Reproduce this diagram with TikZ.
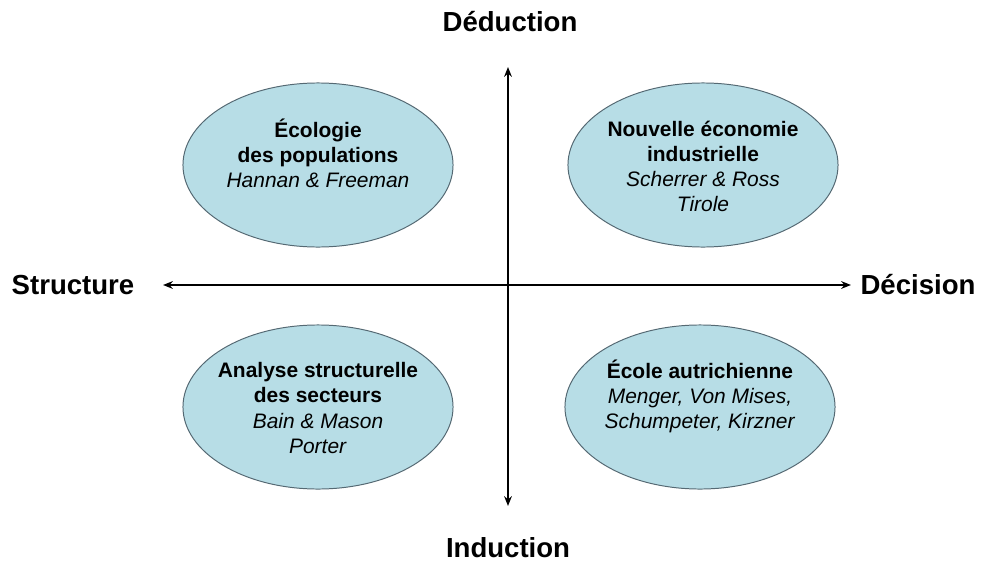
\documentclass[tikz,border=0pt]{standalone}
\usepackage{fontspec}
\setmainfont{Liberation Sans}
\usetikzlibrary{shapes.geometric,arrows.meta}
\definecolor{bulle}{RGB}{183,221,230}
\definecolor{bord}{RGB}{85,105,115}
\begin{document}
\begin{tikzpicture}[x=0.025cm,y=-0.025cm,
	bubble/.style={draw=bord,line width=0.7pt,fill=bulle,ellipse,inner sep=0,minimum width=6.75cm,minimum height=4.1cm},
	txt/.style={align=center,inner sep=0,font=\fontsize{14.9}{17.8}\selectfont},
	axlabel/.style={inner sep=0,font=\fontsize{19.6}{22}\selectfont\bfseries},
	axis/.style={line width=1pt,{Stealth[length=7pt,width=5.5pt]}-{Stealth[length=7pt,width=5.5pt]}}]
	\useasboundingbox (0,0) rectangle (982,566);
	\coordinate (L) at (163,285);
	\coordinate (R) at (851,285);
	\coordinate (T) at (508,67);
	\coordinate (B) at (508,506);
	\draw[axis] (L) -- (R);
	\draw[axis] (B) -- (T);
	\node[axlabel] (struct) at (73,285) {Structure};
	\node[axlabel] (decis) at (918,285) {Décision};
	\node[axlabel] (deduc) at (510,22) {Déduction};
	\node[axlabel] (induc) at (508,548) {Induction};
	\node[bubble] (e1) at (318,165) {};
	\node[bubble] (e2) at (703,165) {};
	\node[bubble] (e3) at (318,407) {};
	\node[bubble] (e4) at (700,407) {};
	\node[txt] (t1) at (318,153) {\textbf{Écologie}\\\textbf{des populations}\\\textit{Hannan \& Freeman}};
	\node[txt] (t2) at (703,166) {\textbf{Nouvelle économie}\\\textbf{industrielle}\\\textit{Scherrer \& Ross}\\\textit{Tirole}};
	\node[txt] (t3) at (318,408) {\textbf{Analyse structurelle}\\\textbf{des secteurs}\\\textit{Bain \& Mason}\\\textit{Porter}};
	\node[txt] (t4) at (700,396) {\textbf{École autrichienne}\\\textit{Menger, Von Mises,}\\\textit{Schumpeter, Kirzner}};
\end{tikzpicture}
\end{document}
